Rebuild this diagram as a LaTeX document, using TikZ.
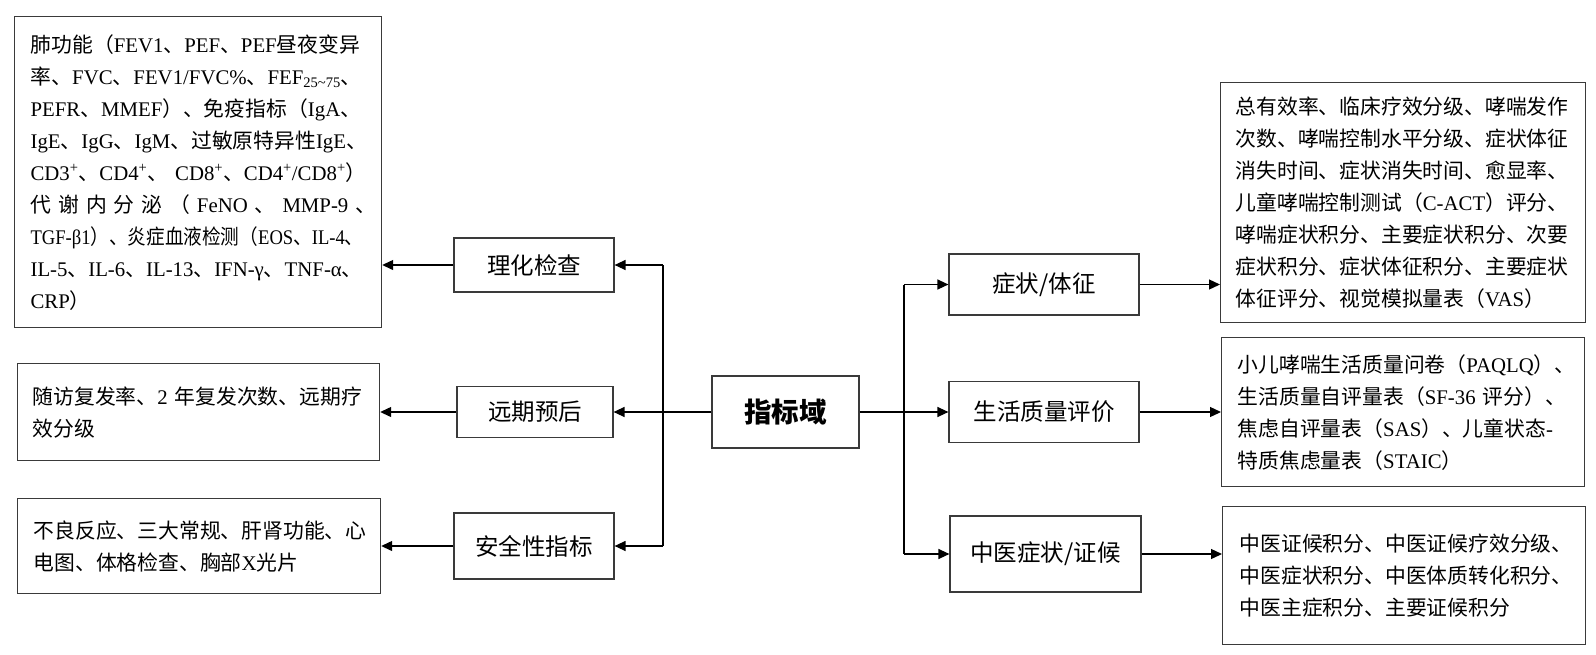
\documentclass[tikz,border=0pt]{standalone}
\usepackage{fontspec}
\usepackage{graphicx}
\setmainfont{Liberation Serif}
\newfontfamily\cjk{Noto Sans CJK SC}
\usetikzlibrary{arrows.meta}
\newcommand\lat[1]{{\rmfamily #1}}
\definecolor{boxc}{HTML}{3A3A3A}
\begin{document}
\begin{tikzpicture}[x=1pt,y=-1pt,
  leaf/.style={draw=boxc, line width=1.2pt, anchor=north west, inner ysep=0pt, align=left, font=\cjk\fontsize{20.8}{32}\selectfont},
  mid/.style={draw=boxc, line width=1.2pt, inner sep=0pt, align=center, font=\cjk\fontsize{23.5}{28}\selectfont},
  arr/.style={line width=1.3pt, -{Triangle[length=11pt,width=10pt]}},
  ln/.style={line width=1.3pt}]

\fill[white] (0,0) rectangle (1596,654);
\useasboundingbox (0,0) rectangle (1596,654);

% leaf boxes, left
\node[leaf, inner xsep=16pt, text width=335pt, minimum height=311pt] (l1) at (14,16) {%
\mbox{肺功能（\lat{FEV1}、\lat{PEF}、\lat{PEF}昼夜变异}\\
\mbox{率、\lat{FVC}、\lat{FEV1/FVC\%}、\lat{FEF\textsubscript{25\textasciitilde75}}、}\\
\mbox{\lat{PEFR}、\lat{MMEF}）、免疫指标（\lat{IgA}、}\\
\mbox{\lat{IgE}、\lat{IgG}、\lat{IgM}、过敏原特异性\lat{IgE}、}\\
\mbox{\lat{CD3\textsuperscript{+}}、\lat{CD4\textsuperscript{+}}、\lat{\ CD8\textsuperscript{+}}、\lat{CD4\textsuperscript{+}/CD8\textsuperscript{+}}）}\\
\makebox[333pt][s]{代 谢 内 分 泌 （ \lat{FeNO} 、 \lat{MMP-9} 、}\\
\resizebox{333pt}{\height}{\lat{TGF-β1}）、炎症血液检测（\lat{EOS}、\lat{IL-4}、}\\
\mbox{\lat{IL-5}、\lat{IL-6}、\lat{IL-13}、\lat{IFN-γ}、\lat{TNF-α}、}\\
\mbox{\lat{CRP}）}};

\node[leaf, inner xsep=15pt, text width=332pt, minimum height=97pt] (l2) at (17,363) {%
\mbox{随访复发率、\lat{2 }年复发次数、远期疗}\\
\mbox{效分级}};

\node[leaf, inner xsep=16pt, text width=331pt, minimum height=95pt] (l3) at (17,498) {%
\mbox{不良反应、三大常规、肝肾功能、心}\\
\mbox{电图、体格检查、胸部\lat{X}光片}};

% leaf boxes, right
\node[leaf, inner xsep=15pt, text width=335pt, minimum height=240pt] (r1) at (1220,82) {%
\mbox{总有效率、临床疗效分级、哮喘发作}\\
\mbox{次数、哮喘控制水平分级、症状体征}\\
\mbox{消失时间、症状消失时间、愈显率、}\\
\mbox{儿童哮喘控制测试（\lat{C-ACT}）评分、}\\
\mbox{哮喘症状积分、主要症状积分、次要}\\
\mbox{症状积分、症状体征积分、主要症状}\\
\mbox{体征评分、视觉模拟量表（\lat{VAS}）}};

\node[leaf, inner xsep=16pt, text width=331pt, minimum height=149pt] (r2) at (1221,337) {%
\mbox{小儿哮喘生活质量问卷（\lat{PAQLQ}）、}\\
\mbox{生活质量自评量表（\lat{SF-36 }评分）、}\\
\mbox{焦虑自评量表（\lat{SAS}）、儿童状态\lat{-}}\\
\mbox{特质焦虑量表（\lat{STAIC}）}};

\node[leaf, inner xsep=17pt, text width=329pt, minimum height=138pt] (r3) at (1222,506) {%
\mbox{中医证候积分、中医证候疗效分级、}\\
\mbox{中医症状积分、中医体质转化积分、}\\
\mbox{中医主症积分、主要证候积分}};

% middle boxes
\node[mid, minimum width=160pt, minimum height=54pt] (lh) at (534,265) {理化检查};
\node[mid, minimum width=156pt, minimum height=51pt] (yq) at (535,412) {远期预后};
\node[mid, minimum width=160pt, minimum height=66pt] (aq) at (534,546) {安全性指标};
\node[mid, minimum width=147pt, minimum height=72pt, font=\cjk\bfseries\fontsize{27.5}{30}\selectfont] (zb) at (785.5,412) {指标域};
\node[mid, minimum width=190pt, minimum height=61pt] (zz) at (1044,284.5) {症状/体征};
\node[mid, minimum width=190pt, minimum height=61pt] (sh) at (1044,412) {生活质量评价};
\node[mid, minimum width=191pt, minimum height=76pt] (zy) at (1045.5,554) {中医症状/证候};

% left connectors
\coordinate (lt) at (663,265);
\coordinate (lb) at (663,546);
\draw[ln] (lt) -- (lb);
\draw[arr] (lt) -- (lh.east);
\draw[arr] (lb) -- (aq.east);
\draw[arr] (zb.west) -- (yq.east);

% right connectors
\coordinate (rt) at (904,284.5);
\coordinate (rb) at (904,554);
\draw[ln] (rt) -- (rb);
\draw[arr] (rt) -- (zz.west);
\draw[arr] (rb) -- (zy.west);
\draw[arr] (zb.east) -- (sh.west);

% to leaf boxes
\draw[arr] (lh.west) -- (lh.west -| l1.east);
\draw[arr] (yq.west) -- (yq.west -| l2.east);
\draw[arr] (aq.west) -- (aq.west -| l3.east);
\draw[arr] (zz.east) -- (zz.east -| r1.west);
\draw[arr] (sh.east) -- (sh.east -| r2.west);
\draw[arr] (zy.east) -- (zy.east -| r3.west);
\end{tikzpicture}
\end{document}
